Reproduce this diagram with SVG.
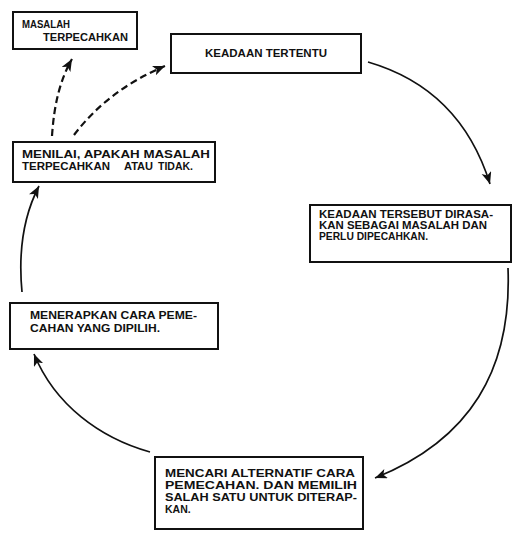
<svg xmlns="http://www.w3.org/2000/svg" width="512" height="534" viewBox="0 0 512 534">
<defs>
<style>
.box{fill:#fff;stroke:#111;stroke-width:2}
.t{font-family:"Liberation Sans",Arial,sans-serif;font-weight:bold;font-size:10.5px;fill:#111}
.c{fill:none;stroke:#111;stroke-width:1.7}
.d{fill:none;stroke:#111;stroke-width:2.2;stroke-dasharray:7 4}
</style>
<marker id="ah" markerUnits="userSpaceOnUse" markerWidth="14" markerHeight="12" refX="12" refY="5" orient="auto">
<path d="M0,0 L12,5 L0,10 L3,5 z" fill="#111"/>
</marker>
</defs>
<rect width="512" height="534" fill="#fff"/>
<g id="connectors">
<path class="c" d="M368,62 C430,80 470,120 490,184" marker-end="url(#ah)"/>
<path class="c" d="M508,268 C512,370 470,440 375,478" marker-end="url(#ah)"/>
<path class="c" d="M150,452 C100,438 55,405 34,354" marker-end="url(#ah)"/>
<path class="c" d="M22,292 C18,250 24,215 39,186" marker-end="url(#ah)"/>
<path class="d" d="M52,136 C54,105 60,80 72,59" marker-end="url(#ah)"/>
<path class="d" d="M74,135 Q108,90 165,66" marker-end="url(#ah)"/>
</g>
<g id="n1">
<rect class="box" x="13" y="12" width="124" height="37"/>
<text class="t" x="22" y="28" textLength="48" lengthAdjust="spacingAndGlyphs">MASALAH</text>
<text class="t" x="43" y="41" textLength="85" lengthAdjust="spacingAndGlyphs">TERPECAHKAN</text>
</g>
<g id="n2">
<rect class="box" x="171" y="34" width="190" height="39"/>
<text class="t" x="205" y="57" textLength="122" lengthAdjust="spacingAndGlyphs">KEADAAN TERTENTU</text>
</g>
<g id="n3">
<rect class="box" x="310" y="205" width="201" height="57"/>
<text class="t" x="319" y="218" textLength="174" lengthAdjust="spacingAndGlyphs">KEADAAN TERSEBUT DIRASA-</text>
<text class="t" x="319" y="229" textLength="168" lengthAdjust="spacingAndGlyphs">KAN SEBAGAI MASALAH DAN</text>
<text class="t" x="319" y="240" textLength="109" lengthAdjust="spacingAndGlyphs">PERLU DIPECAHKAN.</text>
</g>
<g id="n4">
<rect class="box" x="155" y="457" width="208" height="72"/>
<text class="t" x="165" y="477" textLength="190" lengthAdjust="spacingAndGlyphs">MENCARI ALTERNATIF CARA</text>
<text class="t" x="165" y="489" textLength="192" lengthAdjust="spacingAndGlyphs">PEMECAHAN. DAN MEMILIH</text>
<text class="t" x="165" y="501" textLength="192" lengthAdjust="spacingAndGlyphs">SALAH SATU UNTUK DITERAP-</text>
<text class="t" x="165" y="513">KAN.</text>
</g>
<g id="n5">
<rect class="box" x="10" y="303" width="208" height="46"/>
<text class="t" x="30" y="319" textLength="167" lengthAdjust="spacingAndGlyphs">MENERAPKAN CARA PEME-</text>
<text class="t" x="30" y="332" textLength="130" lengthAdjust="spacingAndGlyphs">CAHAN YANG DIPILIH.</text>
</g>
<g id="n6">
<rect class="box" x="13" y="142" width="202" height="40"/>
<text class="t" x="22" y="158" textLength="188" lengthAdjust="spacingAndGlyphs">MENILAI, APAKAH MASALAH</text>
<text class="t" x="22" y="170" textLength="88" lengthAdjust="spacingAndGlyphs">TERPECAHKAN</text>
<text class="t" x="124" y="170" textLength="29" lengthAdjust="spacingAndGlyphs">ATAU</text>
<text class="t" x="158" y="170" textLength="35" lengthAdjust="spacingAndGlyphs">TIDAK.</text>
</g>
</svg>
